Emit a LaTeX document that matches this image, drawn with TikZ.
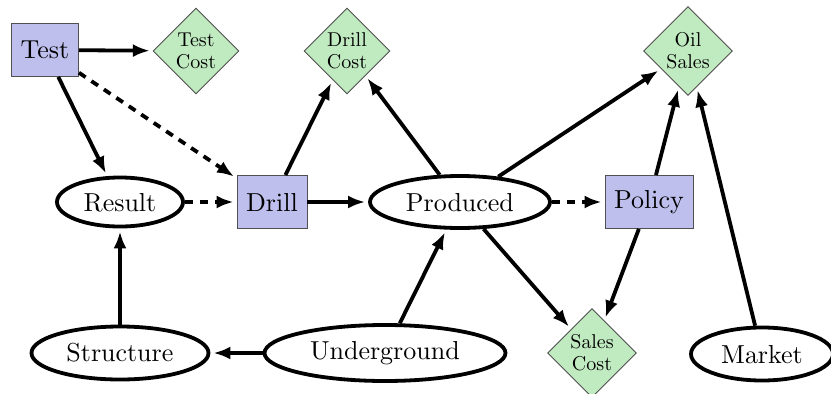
\documentclass[tikz,border=0pt]{standalone}
\usetikzlibrary{shapes.geometric,arrows.meta}
\definecolor{decfill}{RGB}{191,191,238}
\definecolor{utilfill}{RGB}{192,234,192}
\definecolor{boxline}{RGB}{80,80,80}
% Computer Modern at fixed sizes (10pt design, scaled up)
\font\nodefont=cmr10 at 26pt
\font\valuefont=cmr10 at 20pt
\tikzset{
  chance/.style={ellipse, draw, line width=3.8pt, inner sep=0pt,
    font=\nodefont},
  decision/.style={rectangle, draw=boxline, line width=0.9pt, fill=decfill,
    inner sep=0pt, minimum height=53pt, font=\nodefont},
  utility/.style={diamond, draw=boxline, line width=0.9pt, fill=utilfill,
    inner sep=0pt, align=center, font={\valuefont\baselineskip=22pt\relax}},
  link/.style={line width=3.8pt, -{Latex[length=17pt,width=13pt]}, shorten >=3pt},
  infolink/.style={link, dash pattern=on 8pt off 7pt},
}
\begin{document}
\begin{tikzpicture}[x=1pt,y=-1pt]
  \fill[white, use as bounding box] (0,0) rectangle (831,394);

  % decision nodes
  \node[decision, minimum width=67pt] (test)   at (45,50)  {Test};
  \node[decision, minimum width=70pt] (drill)  at (272,202) {Drill};
  \node[decision, minimum width=88pt] (policy) at (649,202) {Policy};

  % value nodes
  \node[utility, minimum width=86pt, minimum height=86pt] (testcost)  at (196,51)  {Test\\Cost};
  \node[utility, minimum width=86pt, minimum height=86pt] (drillcost) at (347,51)  {Drill\\Cost};
  \node[utility, minimum width=89pt, minimum height=89pt] (oilsales)  at (688,51)  {Oil\\Sales};
  \node[utility, minimum width=89pt, minimum height=89pt] (salescost) at (592,353) {Sales\\Cost};

  % chance nodes
  \node[chance, minimum width=126pt, minimum height=49pt] (result)      at (120,202) {Result};
  \node[chance, minimum width=180pt, minimum height=52pt] (produced)    at (460,202) {Produced};
  \node[chance, minimum width=177pt, minimum height=53pt] (structure)   at (120,353) {Structure};
  \node[chance, minimum width=241pt, minimum height=56pt] (underground) at (385,353) {Underground};
  \node[chance, minimum width=142pt, minimum height=53pt] (market)      at (762,354) {Market};

  % influences
  \draw[link] (test) -- (testcost);
  \draw[link] (test) -- (result);
  \draw[infolink] (test) -- (drill);
  \draw[infolink] (result) -- (drill);
  \draw[link] (drill) -- (drillcost);
  \draw[link] (drill) -- (produced);
  \draw[link] (produced) -- (drillcost);
  \draw[link] (produced) -- (oilsales);
  \draw[infolink] (produced) -- (policy);
  \draw[link] (produced) -- (salescost);
  \draw[link] (policy) -- (oilsales);
  \draw[link] (policy) -- (salescost);
  \draw[link] (market) -- (oilsales);
  \draw[link] (underground) -- (produced);
  \draw[link] (underground) -- (structure);
  \draw[link] (structure) -- (result);
\end{tikzpicture}
\end{document}
